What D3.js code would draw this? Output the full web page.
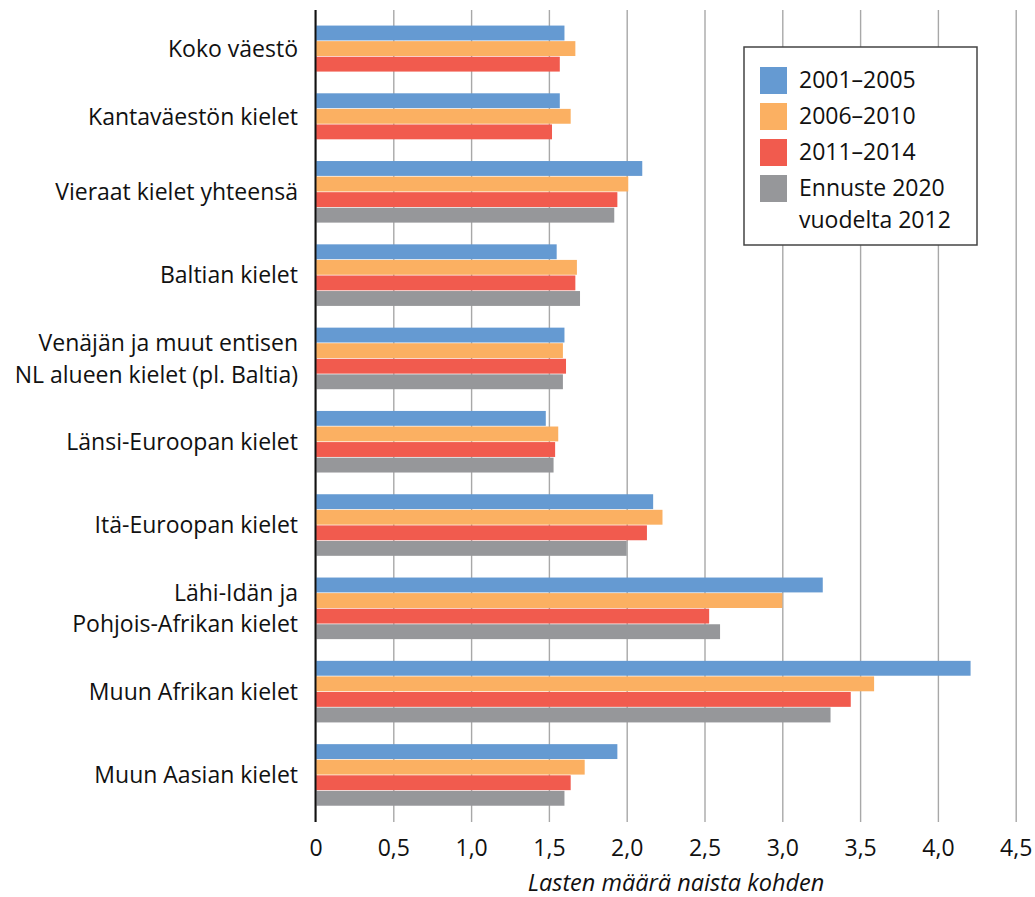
<!DOCTYPE html>
<html>
<head>
<meta charset="utf-8">
<script src="https://cdn.jsdelivr.net/npm/d3@7"></script>
<style>
  html, body { margin: 0; padding: 0; background: #fff; }
  svg { display: block; font-family: "Open Sans", "Noto Sans", sans-serif; }
</style>
</head>
<body>
<svg id="chart" width="1035" height="897"></svg>
<script>
// ---- Data ----
const categories = [
  ["Koko väestö"],
  ["Kantaväestön kielet"],
  ["Vieraat kielet yhteensä"],
  ["Baltian kielet"],
  ["Venäjän ja muut entisen", "NL alueen kielet (pl. Baltia)"],
  ["Länsi-Euroopan kielet"],
  ["Itä-Euroopan kielet"],
  ["Lähi-Idän ja", "Pohjois-Afrikan kielet"],
  ["Muun Afrikan kielet"],
  ["Muun Aasian kielet"]
];
const seriesNames = [
  ["2001–2005"],
  ["2006–2010"],
  ["2011–2014"],
  ["Ennuste 2020", "vuodelta 2012"]
];
const values2001_2005 = [1.60, 1.57, 2.10, 1.55, 1.60, 1.48, 2.17, 3.26, 4.21, 1.94];
const values2006_2010 = [1.67, 1.64, 2.01, 1.68, 1.59, 1.56, 2.23, 3.00, 3.59, 1.73];
const values2011_2014 = [1.57, 1.52, 1.94, 1.67, 1.61, 1.54, 2.13, 2.53, 3.44, 1.64];
const valuesEnnuste   = [null, null, 1.92, 1.70, 1.59, 1.53, 2.00, 2.60, 3.31, 1.60];
const xTickValues = [0, 0.5, 1.0, 1.5, 2.0, 2.5, 3.0, 3.5, 4.0, 4.5];
const axisTitle = "Lasten määrä naista kohden";

const seriesValues = [values2001_2005, values2006_2010, values2011_2014, valuesEnnuste];
const colors = ["#659AD2", "#FBB062", "#F15B4E", "#96979A"];

(function () {
// ---- Layout ----
const plotLeft = 315.5, plotRight = 1015.7, plotTop = 10, plotBottom = 822;
const FS = 23;
const svg = d3.select("#chart");

const x = d3.scaleLinear().domain([0, 4.5]).range([plotLeft, plotRight]);

// Variable-size groups: each present bar takes one slot; fixed gap between groups
const GAP = 1.35, PAD = 1.0;
const groups = [];
let cursor = PAD;
categories.forEach((c, i) => {
  const present = seriesValues.map((s, j) => ({ j, v: s[i] })).filter(d => d.v != null);
  groups.push({ i, label: c, start: cursor, bars: present });
  cursor += present.length;
  if (i < categories.length - 1) cursor += GAP;
});
const totalUnits = cursor + PAD;
const y = d3.scaleLinear().domain([0, totalUnits]).range([plotTop, plotBottom]);
const slotH = y(1) - y(0);

// Gridlines + tick labels
const xAxis = d3.axisBottom(x)
  .tickValues(xTickValues)
  .tickSize(-(plotBottom - plotTop))
  .tickPadding(17.5)
  .tickFormat(d => d === 0 ? "0" : d.toFixed(1).replace(".", ","));

const gx = svg.append("g")
  .attr("transform", `translate(0,${plotBottom})`)
  .call(xAxis);
gx.select(".domain").remove();
gx.selectAll(".tick line").attr("stroke", "#a8a8a8").attr("stroke-width", 1.4);
gx.selectAll(".tick text")
  .attr("font-size", FS)
  .attr("fill", "#111")
  .attr("font-family", "'Open Sans', 'Noto Sans', sans-serif");

// Bars
const barG = svg.append("g");
groups.forEach(g => {
  g.bars.forEach((b, k) => {
    barG.append("rect")
      .attr("x", x(0))
      .attr("y", y(g.start + k))
      .attr("width", x(b.v) - x(0))
      .attr("height", slotH - 0.7)
      .attr("fill", colors[b.j]);
  });
});

// Zero axis line
svg.append("line")
  .attr("x1", x(0)).attr("x2", x(0))
  .attr("y1", plotTop).attr("y2", plotBottom)
  .attr("stroke", "#111").attr("stroke-width", 2);

// Category labels
const lineH = 31.5;
groups.forEach(g => {
  const center = y(g.start + g.bars.length / 2);
  const n = g.label.length;
  const t = svg.append("text")
    .attr("x", 298)
    .attr("text-anchor", "end")
    .attr("font-size", FS)
    .attr("fill", "#111");
  g.label.forEach((line, li) => {
    t.append("tspan")
      .attr("x", 298)
      .attr("y", center + 8 + (li - (n - 1) / 2) * lineH)
      .text(line);
  });
});

// Axis title
svg.append("text")
  .attr("x", 676)
  .attr("y", 891)
  .attr("text-anchor", "middle")
  .attr("font-size", 23.5)
  .attr("font-style", "italic")
  .attr("fill", "#111")
  .text(axisTitle);

// Legend
const lg = svg.append("g");
lg.append("rect")
  .attr("x", 744).attr("y", 47)
  .attr("width", 233).attr("height", 198)
  .attr("fill", "#fff")
  .attr("stroke", "#444").attr("stroke-width", 1.5);
const swTops = [67, 103, 139, 175];
seriesNames.forEach((name, j) => {
  lg.append("rect")
    .attr("x", 760).attr("y", swTops[j])
    .attr("width", 27).attr("height", 27)
    .attr("fill", colors[j]);
  const t = lg.append("text")
    .attr("font-size", FS)
    .attr("fill", "#111");
  name.forEach((line, li) => {
    t.append("tspan")
      .attr("x", 799)
      .attr("y", swTops[j] + 21 + li * lineH)
      .text(line);
  });
});
})();
</script>
</body>
</html>
